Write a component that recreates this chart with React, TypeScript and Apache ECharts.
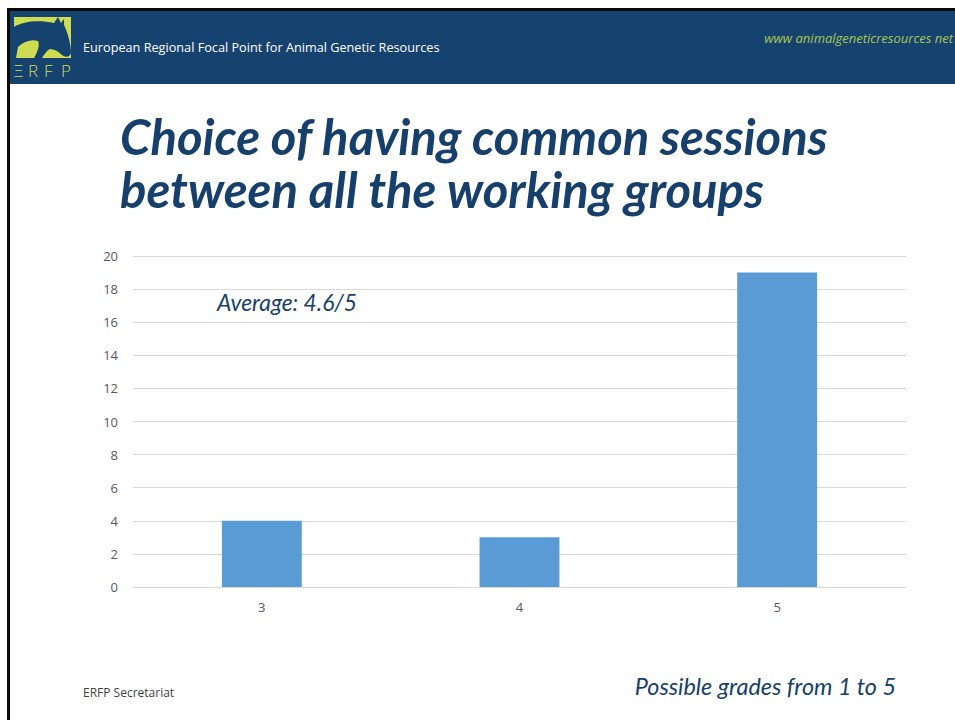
import React, { useEffect, useRef } from "react";
import * as echarts from "echarts";

const categories = ["3", "4", "5"];
const counts = [4, 3, 19];
const yTicks = { min: 0, max: 20, interval: 2 };

const titleLines = ["Choice of having common sessions", "between all the working groups"];
const headerText = "European Regional Focal Point for Animal Genetic Resources";
const urlText = "www animalgeneticresources net";
const averageText = "Average: 4.6/5";
const gradesText = "Possible grades from 1 to 5";
const footerText = "ERFP Secretariat";
const logoLetters = ["Ξ", "R", "F", "P"];

const horsePath =
  "M0 10 C10 4 25 3 40 6 L44 0 L47 6 L50 2 L50 8 C54 16 57 28 57 36 C56 40 52 41 48 38 C44 34 40 32 36 32 C32 34 30 38 28 41 L20 41 C24 34 26 28 24 24 C18 22 10 24 4 30 L2 41 L0 41 Z M0 16 C8 12 18 12 26 16 C18 16 8 18 0 22 Z";

let registered = false;

export default function App() {
  const ref = useRef<HTMLDivElement>(null);
  useEffect(() => {
    if (!registered) {
      echarts.graphic.registerShape("logo", echarts.graphic.extendPath(horsePath, {}) as any);
      registered = true;
    }
    const chart = echarts.init(ref.current!, null, { renderer: "svg" });
    const headerBlue = "#164270";
    const titleBlue = "#173F6B";
    const logoGreen = "#CDDC52";
    const letterX = [14, 28, 44, 61];
    chart.setOption({
      animation: false,
      backgroundColor: "#ffffff",
      grid: { left: 133, right: 49, top: 256, bottom: 133 },
      xAxis: {
        type: "category",
        data: categories,
        axisLine: { lineStyle: { color: "#D9D9D9" } },
        axisTick: { show: false },
        axisLabel: { color: "#595959", fontSize: 13, margin: 13, fontFamily: "Open Sans" },
      },
      yAxis: {
        type: "value",
        min: yTicks.min,
        max: yTicks.max,
        interval: yTicks.interval,
        axisLine: { show: false },
        axisTick: { show: false },
        axisLabel: { color: "#595959", fontSize: 13, margin: 15, fontFamily: "Open Sans" },
        splitLine: { lineStyle: { color: "#D9D9D9" } },
      },
      series: [
        {
          type: "bar",
          data: counts,
          barWidth: "31%",
          itemStyle: { color: "#5B9BD5" },
        },
      ],
      graphic: [
        { type: "rect", shape: { x: 7, y: 8, width: 948, height: 3 }, style: { fill: "#0a0a0a" }, z: 10 },
        { type: "rect", shape: { x: 7, y: 8, width: 3, height: 712 }, style: { fill: "#0a0a0a" }, z: 10 },
        { type: "rect", shape: { x: 10, y: 11, width: 945, height: 73 }, style: { fill: headerBlue }, z: 10 },
        { type: "rect", shape: { x: 14, y: 17, width: 57, height: 41 }, style: { fill: logoGreen }, z: 11 },
        {
          type: "logo",
          x: 14,
          y: 17,
          scaleX: 1,
          scaleY: 1,
          style: { fill: headerBlue },
          z: 12,
        },
        ...logoLetters.map((ch, i) => ({
          type: "text",
          x: letterX[i],
          y: 70,
          style: {
            text: ch,
            fill: logoGreen,
            font: "300 17px 'Open Sans'",
            verticalAlign: "middle",
          },
          z: 12,
        })),
        {
          type: "text",
          x: 83,
          y: 47,
          style: { text: headerText, fill: "#ffffff", font: "12.7px 'Open Sans'", verticalAlign: "middle" },
          z: 12,
        },
        {
          type: "text",
          x: 953,
          y: 38,
          style: {
            text: urlText,
            fill: "#A9C84E",
            font: "italic 13px 'Open Sans'",
            align: "right",
            verticalAlign: "middle",
          },
          z: 12,
        },
        {
          type: "text",
          x: 120,
          y: 136,
          style: {
            text: titleLines[0],
            fill: titleBlue,
            font: "italic bold 49px Lato",
            verticalAlign: "middle",
          },
          z: 12,
        },
        {
          type: "text",
          x: 120,
          y: 189,
          style: {
            text: titleLines[1],
            fill: titleBlue,
            font: "italic bold 49px Lato",
            verticalAlign: "middle",
          },
          z: 12,
        },
        {
          type: "text",
          x: 217,
          y: 302,
          style: {
            text: averageText,
            fill: titleBlue,
            font: "italic 22.8px Lato",
            verticalAlign: "middle",
          },
          z: 12,
        },
        {
          type: "text",
          x: 896,
          y: 686,
          style: {
            text: gradesText,
            fill: titleBlue,
            font: "italic 23.4px Lato",
            align: "right",
            verticalAlign: "middle",
          },
          z: 12,
        },
        {
          type: "text",
          x: 83,
          y: 692,
          style: { text: footerText, fill: "#404040", font: "12px 'Open Sans'", verticalAlign: "middle" },
          z: 12,
        },
      ],
    });
    return () => chart.dispose();
  }, []);
  return (
    <div
      ref={ref}
      style={{ position: "fixed", left: 0, top: 0, width: 955, height: 720 }}
    />
  );
}
